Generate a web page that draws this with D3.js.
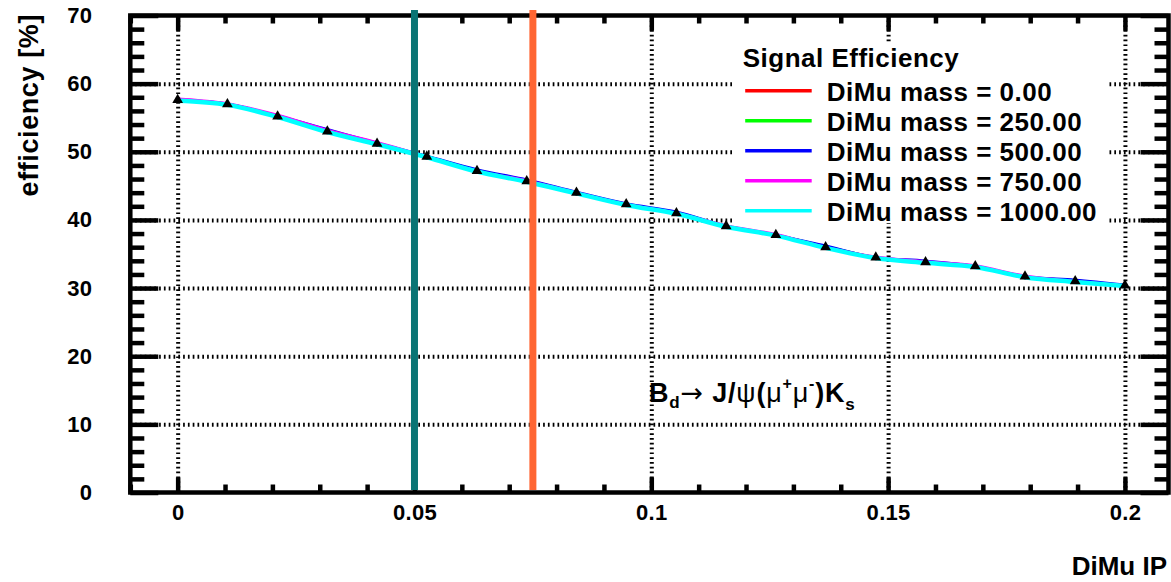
<!DOCTYPE html>
<html>
<head>
<meta charset="utf-8">
<script src="https://cdnjs.cloudflare.com/ajax/libs/d3/7.8.5/d3.min.js"></script>
<style>
  body { margin: 0; background: #fff; }
  svg { display: block; font-family: "Liberation Sans", Arial, Helvetica, sans-serif; font-weight: bold; }
  .grid line { stroke: #000; stroke-width: 4; stroke-dasharray: 1.7,3.1; }
  .grid path, .axis path { display: none; }
  .axis line { stroke: #000; stroke-width: 4.5; }
  .axis text { font-size: 22px; fill: #000; font-family: "Liberation Sans", Arial, sans-serif; font-weight: bold; letter-spacing: 0.3px; }
</style>
</head>
<body>
<div id="chart"></div>
<script>

// cut values of the dimuon impact parameter
var ipValues = [0, 0.0105, 0.0211, 0.0316, 0.0421, 0.0526, 0.0632, 0.0737, 0.0842, 0.0947,
                0.1053, 0.1158, 0.1263, 0.1368, 0.1474, 0.1579, 0.1684, 0.1789, 0.1895, 0.2];

// efficiency [%] for every dimuon mass cut
var effMass0    = [57.6, 57.0, 55.2, 53.0, 51.2, 49.3, 47.2, 45.7, 44.0, 42.3, 41.0, 39.1, 37.8, 36.0, 34.5, 33.8, 33.2, 31.7, 31.0, 30.4];
var effMass250  = [57.6, 57.0, 55.2, 53.1, 51.2, 49.3, 47.3, 45.7, 44.0, 42.3, 41.1, 39.1, 37.8, 36.1, 34.5, 33.8, 33.2, 31.7, 31.1, 30.4];
var effMass500  = [57.7, 57.0, 55.3, 53.3, 51.3, 49.4, 47.4, 45.9, 44.1, 42.4, 41.2, 39.1, 37.8, 36.2, 34.5, 34.0, 33.2, 31.7, 31.2, 30.5];
var effMass750  = [57.8, 57.1, 55.4, 53.2, 51.4, 49.3, 47.2, 45.8, 44.0, 42.3, 41.0, 39.2, 37.9, 36.0, 34.6, 33.9, 33.3, 31.8, 31.0, 30.4];
var effMass1000 = [57.5, 56.9, 55.1, 52.9, 51.1, 49.2, 47.1, 45.6, 43.9, 42.2, 40.9, 39.0, 37.7, 35.9, 34.4, 33.7, 33.1, 31.6, 30.9, 30.3];

// reference points with their errors
var effPoints = [57.6, 57.0, 55.2, 53.0, 51.2, 49.3, 47.2, 45.7, 44.0, 42.3, 41.0, 39.1, 37.8, 36.0, 34.5, 33.8, 33.2, 31.7, 31.0, 30.4];
var effErrors = [0.4, 0.4, 0.4, 0.4, 0.4, 0.4, 0.4, 0.4, 0.4, 0.4, 0.4, 0.4, 0.4, 0.4, 0.4, 0.4, 0.4, 0.4, 0.4, 0.4];

var seriesNames  = ["DiMu mass = 0.00", "DiMu mass = 250.00", "DiMu mass = 500.00", "DiMu mass = 750.00", "DiMu mass = 1000.00"];
var seriesColors = ["#ff0000", "#00ff00", "#0000ff", "#ff00ff", "#00ffff"];
var seriesData   = [effMass0, effMass250, effMass500, effMass750, effMass1000];

// vertical cut lines
var cutValues = [0.05, 0.075];
var cutColors = ["#0a7474", "#ff6633"];

// ticks
var xTicks = [0, 0.05, 0.1, 0.15, 0.2];
var xTickLabels = ["0", "0.05", "0.1", "0.15", "0.2"];
var yTicks = [0, 10, 20, 30, 40, 50, 60, 70];
var yTickLabels = ["0", "10", "20", "30", "40", "50", "60", "70"];

// set the dimensions and margins of the graph
var margin = {top: 15.5, right: 2.5, bottom: 89.5, left: 130.3},
    width = 1171 - margin.left - margin.right,
    height = 582 - margin.top - margin.bottom;

var x = d3.scaleLinear()
          .domain([-0.01, 0.2092])
          .range([0, width]);
var y = d3.scaleLinear()
          .domain([0, 70])
          .range([height, 0]);

var xMinor = d3.range(-0.01, 0.2095, 0.01).filter(function(d) { return Math.abs(d * 20 - Math.round(d * 20)) > 1e-6; });
var yMinor = d3.range(2, 70, 2).filter(function(d) { return d % 10 != 0; });

var svg = d3.select("#chart").append("svg")
    .attr("width", 1171)
    .attr("height", 582);

var plot = svg.append("g")
    .attr("transform", "translate(" + margin.left + "," + margin.top + ")");

// dotted grid
plot.append("g")
    .attr("class", "grid")
    .attr("transform", "translate(0," + height + ")")
    .call(d3.axisBottom(x).tickValues(xTicks).tickSize(-height).tickFormat(""));
plot.append("g")
    .attr("class", "grid")
    .call(d3.axisLeft(y).tickValues(yTicks.slice(1, -1)).tickSize(-width).tickFormat(""));

// white legend box hides the grid
svg.append("rect")
    .attr("x", 732)
    .attr("y", 44)
    .attr("width", 376)
    .attr("height", 179)
    .attr("fill", "#fff");

// efficiency curves
var line = d3.line()
    .x(function(d, i) { return x(ipValues[i]); })
    .y(function(d) { return y(d); })
    .curve(d3.curveMonotoneX);

plot.selectAll(".curve")
    .data(seriesData)
  .enter().append("path")
    .attr("class", "curve")
    .attr("d", line)
    .attr("fill", "none")
    .attr("stroke", function(d, i) { return seriesColors[i]; })
    .attr("stroke-width", function(d, i) { return i == 4 ? 4.5 : 2.5; });

// error bars and markers
plot.selectAll(".err")
    .data(effPoints)
  .enter().append("line")
    .attr("class", "err")
    .attr("x1", function(d, i) { return x(ipValues[i]); })
    .attr("x2", function(d, i) { return x(ipValues[i]); })
    .attr("y1", function(d, i) { return y(d - effErrors[i]); })
    .attr("y2", function(d, i) { return y(d + effErrors[i]); })
    .attr("stroke", "#000")
    .attr("stroke-width", 2);

plot.selectAll(".marker")
    .data(effPoints)
  .enter().append("path")
    .attr("class", "marker")
    .attr("d", d3.symbol().type(d3.symbolTriangle).size(50))
    .attr("transform", function(d, i) { return "translate(" + x(ipValues[i]) + "," + y(d) + ")"; })
    .attr("fill", "#000");

// axes, ticks pointing inwards on all four sides
plot.append("g")
    .attr("class", "axis")
    .attr("transform", "translate(0," + height + ")")
    .call(d3.axisBottom(x).tickValues(xTicks).tickSize(-15).tickPadding(12)
            .tickFormat(function(d, i) { return xTickLabels[i]; }));
plot.append("g")
    .attr("class", "axis")
    .attr("transform", "translate(0," + height + ")")
    .call(d3.axisBottom(x).tickValues(xMinor).tickSize(-8).tickFormat(""));
plot.append("g")
    .attr("class", "axis")
    .call(d3.axisTop(x).tickValues(xTicks).tickSize(-15).tickFormat(""));
plot.append("g")
    .attr("class", "axis")
    .call(d3.axisTop(x).tickValues(xMinor).tickSize(-8).tickFormat(""));

plot.append("g")
    .attr("class", "axis")
    .call(d3.axisLeft(y).tickValues(yTicks).tickSize(-28).tickPadding(38)
            .tickFormat(function(d, i) { return yTickLabels[i]; }));
plot.append("g")
    .attr("class", "axis")
    .call(d3.axisLeft(y).tickValues(yMinor).tickSize(-14).tickFormat(""));
plot.append("g")
    .attr("class", "axis")
    .attr("transform", "translate(" + width + ",0)")
    .call(d3.axisRight(y).tickValues(yTicks).tickSize(-28).tickFormat(""));
plot.append("g")
    .attr("class", "axis")
    .attr("transform", "translate(" + width + ",0)")
    .call(d3.axisRight(y).tickValues(yMinor).tickSize(-14).tickFormat(""));

// frame
plot.append("rect")
    .attr("width", width)
    .attr("height", height)
    .attr("fill", "none")
    .attr("stroke", "#000")
    .attr("stroke-width", 4.5);

// cut lines
plot.selectAll(".cut")
    .data(cutValues)
  .enter().append("line")
    .attr("class", "cut")
    .attr("x1", function(d) { return x(d); })
    .attr("x2", function(d) { return x(d); })
    .attr("y1", -5.5)
    .attr("y2", height - 2.5)
    .attr("stroke", function(d, i) { return cutColors[i]; })
    .attr("stroke-width", 7);

// legend
var legend = svg.append("g")
    .attr("transform", "translate(742.7,67.3)")
    .style("font-size", "26px")
    .style("letter-spacing", "0.5px");

legend.append("text")
    .text("Signal Efficiency");

var entries = legend.selectAll(".entry")
    .data(seriesNames)
  .enter().append("g")
    .attr("class", "entry")
    .attr("transform", function(d, i) { return "translate(0," + (23.4 + i * 30) + ")"; });

entries.append("line")
    .attr("x1", 2.5)
    .attr("x2", 69)
    .attr("stroke", function(d, i) { return seriesColors[i]; })
    .attr("stroke-width", 3.5);

entries.append("text")
    .attr("x", 84)
    .attr("y", 10)
    .text(function(d) { return d; });

// decay label
var decay = svg.append("text")
    .attr("x", 649)
    .attr("y", 401.7)
    .style("font-size", "27px")
    .style("letter-spacing", "0.8px");

decay.append("tspan").text("B");
decay.append("tspan").attr("dy", 6).style("font-size", "17px").text("d");
decay.append("tspan").attr("dy", -6).style("font-weight", "normal")
    .style("font-family", "'DejaVu Sans', sans-serif").text("\u2192");
decay.append("tspan").text(" J/");
decay.append("tspan").style("font-weight", "normal").text("\u03c8");
decay.append("tspan").text("(");
decay.append("tspan").style("font-weight", "normal").text("\u03bc");
decay.append("tspan").attr("dy", -13).style("font-size", "16px").text("+");
decay.append("tspan").attr("dy", 13).style("font-weight", "normal").text("\u03bc");
decay.append("tspan").attr("dy", -13).style("font-size", "16px").text("-");
decay.append("tspan").attr("dy", 13).text(")K");
decay.append("tspan").attr("dy", 8).style("font-size", "17px").text("s");

// axis titles
svg.append("text")
    .attr("transform", "translate(38,14) rotate(-90)")
    .attr("text-anchor", "end")
    .style("font-size", "27px")
    .style("letter-spacing", "0.6px")
    .text("efficiency [%]");

svg.append("text")
    .attr("x", 1167)
    .attr("y", 575)
    .attr("text-anchor", "end")
    .style("font-size", "26px")
    .text("DiMu IP");

</script>
</body>
</html>
